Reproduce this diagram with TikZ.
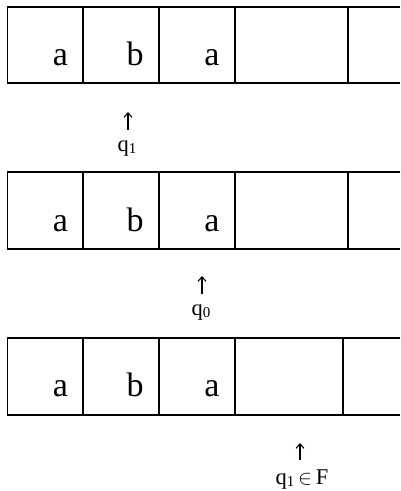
\documentclass[tikz,border=0pt]{standalone}
\usepackage{fontspec}
\setmainfont{Liberation Serif}
\usetikzlibrary{arrows.meta}
\newcommand\subsc[1]{{\fontsize{15}{15}\selectfont\raisebox{-2.5pt}{#1}}}
\tikzset{
  tapeline/.style={line width=1.8pt},
  sym/.style={font=\fontsize{34}{34}\selectfont, anchor=base, inner sep=0pt},
  headarrow/.style={line width=1.1pt, -{Straight Barb[length=4.5pt,width=8pt,line width=1.1pt]}},
  lbl/.style={font=\fontsize{22.5}{22.5}\selectfont, anchor=base, inner sep=0pt}
}
\begin{document}
\begin{tikzpicture}[x=1pt,y=-1pt]
\useasboundingbox (0,0) rectangle (400,491);
% tape 1
\draw[tapeline] (400,7) -- (7.5,7) -- (7.5,83) -- (400,83);
\foreach \x in {83,159,235,348} \draw[tapeline] (\x,7) -- (\x,83);
\node[sym] (t1c1) at (60.5,65.7) {a};
\node[sym] (t1c2) at (135,65.7) {b};
\node[sym] (t1c3) at (212,65.7) {a};
\coordinate (h1b) at (128,130);
\coordinate (h1t) at (128,112);
\draw[headarrow] (h1b) -- (h1t);
\node[lbl] (l1) at (127,151) {q\subsc{1}};
% tape 2
\draw[tapeline] (400,172.3) -- (7.5,172.3) -- (7.5,249.3) -- (400,249.3);
\foreach \x in {83,159,235,348} \draw[tapeline] (\x,172.3) -- (\x,249.3);
\node[sym] (t2c1) at (60.5,231.7) {a};
\node[sym] (t2c2) at (135,231.7) {b};
\node[sym] (t2c3) at (212,231.7) {a};
\coordinate (h2b) at (202,294);
\coordinate (h2t) at (202,276);
\draw[headarrow] (h2b) -- (h2t);
\node[lbl] (l2) at (201,315) {q\subsc{0}};
% tape 3
\draw[tapeline] (400,337.7) -- (7.5,337.7) -- (7.5,414.7) -- (400,414.7);
\foreach \x in {83,159,235,343} \draw[tapeline] (\x,337.7) -- (\x,414.7);
\node[sym] (t3c1) at (60.5,396.7) {a};
\node[sym] (t3c2) at (135,396.7) {b};
\node[sym] (t3c3) at (212,396.7) {a};
\coordinate (h3b) at (300,460);
\coordinate (h3t) at (300,443);
\draw[headarrow] (h3b) -- (h3t);
\node[lbl] (l3) at (302,484) {q\subsc{1}\,$\in$\,F};
\end{tikzpicture}
\end{document}
